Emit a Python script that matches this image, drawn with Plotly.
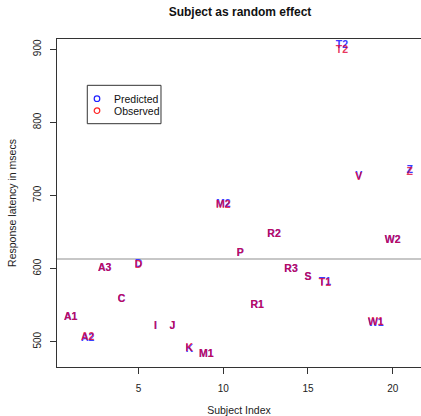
import plotly.graph_objects as go

subjects = ["A1", "A2", "A3", "C", "D", "I", "J", "K", "M1", "M2", "P",
            "R1", "R2", "R3", "S", "T1", "T2", "V", "W1", "W2", "Z"]
subject_index = list(range(1, 22))
predicted = [533.5, 504.5, 600.5, 557.5, 605.5, 521, 521, 490, 482, 687.5, 620.5,
             549.5, 647.5, 598.5, 587.5, 580.5, 905, 726.5, 525.5, 639, 734.5]
observed = [533, 505.5, 600, 558, 605, 521.5, 521, 490.5, 482.5, 687, 621,
            550, 647, 599, 588, 580, 898, 725, 526, 639, 732]
grand_mean = 613
y_ticks = [500, 600, 700, 800, 900]
x_ticks = [5, 10, 15, 20]

FONT = "Liberation Sans, Arial, Helvetica, sans-serif"

fig = go.Figure()
fig.add_trace(go.Scatter(x=subject_index, y=predicted, text=[f"<b>{s}</b>" for s in subjects],
                         mode="text", textposition="middle center", name="Predicted",
                         textfont=dict(family=FONT, size=10.5, color="rgb(60,60,255)"),
                         showlegend=False, hoverinfo="skip"))
fig.add_trace(go.Scatter(x=subject_index, y=observed, text=[f"<b>{s}</b>" for s in subjects],
                         mode="text", textposition="middle center", name="Observed",
                         textfont=dict(family=FONT, size=10.5, color="rgba(225,0,50,0.8)"),
                         showlegend=False, hoverinfo="skip"))

fig.add_shape(type="line", xref="paper", x0=0, x1=1, yref="y", y0=grand_mean, y1=grand_mean,
              line=dict(color="#b4b4b4", width=1.5), layer="below")

# legend (manual, R-style)
fig.add_shape(type="rect", xref="paper", yref="paper", x0=0.0832, x1=0.2857,
              y0=0.7418, y1=0.8588, line=dict(color="#333333", width=1),
              fillcolor="white", layer="above")
leg_y = [0.818, 0.7814]
leg_cols = ["#2020ff", "#ff2020"]
leg_txt = ["Predicted", "Observed"]
for yy, cc, tt in zip(leg_y, leg_cols, leg_txt):
    fig.add_shape(type="circle", xref="paper", yref="paper", xsizemode="pixel",
                  ysizemode="pixel", xanchor=0.1099, yanchor=yy, x0=-2.8, x1=2.8,
                  y0=-2.8, y1=2.8, line=dict(color=cc, width=1.2), layer="above")
    fig.add_annotation(xref="paper", yref="paper", x=0.1503, y=yy, text=tt,
                       showarrow=False, xanchor="left", yanchor="middle",
                       font=dict(family=FONT, size=10.5, color="#111"))

fig.update_layout(
    width=421, height=416,
    margin=dict(l=57, r=0, t=39, b=49),
    plot_bgcolor="white", paper_bgcolor="white",
    title=dict(text="<b>Subject as random effect</b>", x=240 / 421, xanchor="center",
               xref="container", yref="container", y=1 - 12 / 416, yanchor="middle",
               font=dict(family=FONT, size=12, color="#111")),
    font=dict(family=FONT, color="#111"),
)
fig.update_xaxes(range=[0.19, 21.67], tickvals=x_ticks, ticks="outside", ticklen=6,
                 tickcolor="#333", showline=True, linecolor="#333", linewidth=1.2,
                 mirror=True, showgrid=False, zeroline=False,
                 tickfont=dict(family=FONT, size=10, color="#222"),
                 ticklabelstandoff=6,
                 title=dict(text="Subject Index", standoff=16,
                            font=dict(family=FONT, size=10.5, color="#222")),
                 automargin=False)
fig.update_yaxes(range=[465.4, 914.1], tickvals=y_ticks, ticks="outside", ticklen=6,
                 tickcolor="#333", showline=True, linecolor="#333", linewidth=1.2,
                 mirror=False, showgrid=False, zeroline=False, tickangle=-90,
                 tickfont=dict(family=FONT, size=10, color="#222"),
                 ticklabelstandoff=5,
                 title=dict(text="Response latency in msecs", standoff=13,
                            font=dict(family=FONT, size=10.5, color="#222")),
                 automargin=False)

fig.write_html("out.html")
